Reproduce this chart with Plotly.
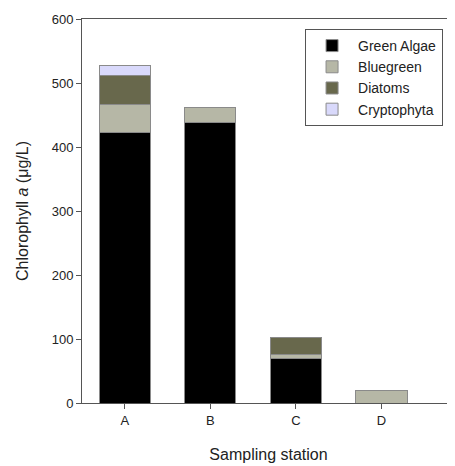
import plotly.graph_objects as go

stations = ["A", "B", "C", "D"]
green_algae = [423, 439, 69, 0]
bluegreen = [43, 22, 7, 19]
diatoms = [45, 0, 26, 1]
cryptophyta = [17, 0, 0, 0]

series = [
    ("Green Algae", green_algae, "#000000"),
    ("Bluegreen", bluegreen, "#b6b7a6"),
    ("Diatoms", diatoms, "#68684c"),
    ("Cryptophyta", cryptophyta, "#d9d9fb"),
]

fig = go.Figure()
for name, vals, col in series:
    fig.add_trace(go.Bar(
        x=stations, y=vals, name=name,
        marker=dict(color=col, line=dict(color="#8a8a8a", width=1)),
    ))

fig.update_layout(
    barmode="stack",
    bargap=0.4,
    width=447, height=458,
    margin=dict(l=74, r=0, t=11, b=63, autoexpand=False),
    paper_bgcolor="white", plot_bgcolor="white",
    font=dict(family="Liberation Sans, Arial, sans-serif", size=13, color="#222"),
    showlegend=True,
    legend=dict(
        x=0.598, y=0.974, xanchor="left", yanchor="top",
        bordercolor="#555", borderwidth=1,
        font=dict(size=14, color="#222"),
        traceorder="normal",
        entrywidth=110,
        itemwidth=42,
        tracegroupgap=0,
    ),
    xaxis=dict(
        range=[-0.5, 3.86],
        showline=True, linecolor="#555", linewidth=1, mirror=True,
        ticks="outside", ticklen=5, tickcolor="#555",
        tickfont=dict(size=13), automargin=False,
        title=dict(text="Sampling station", font=dict(size=16), standoff=22),
    ),
    yaxis=dict(
        range=[0, 600], tickvals=[0, 100, 200, 300, 400, 500, 600],
        showline=True, linecolor="#555", linewidth=1, mirror=False,
        ticks="outside", ticklen=5, tickcolor="#555",
        showgrid=False, zeroline=False,
        tickfont=dict(size=13), automargin=False,
        title=dict(text="Chlorophyll <i>a</i> (μg/L)", font=dict(size=16), standoff=19),
    ),
)

fig.write_html("out.html")
